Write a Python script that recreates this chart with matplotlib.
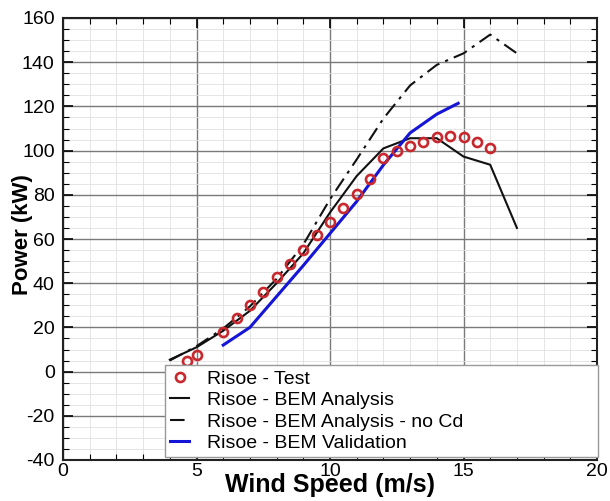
import numpy as np
import matplotlib
matplotlib.use('Agg')
import matplotlib.pyplot as plt
from matplotlib.ticker import MultipleLocator

plt.rcParams['font.family'] = ['Liberation Sans', 'DejaVu Sans']
plt.rcParams['axes.unicode_minus'] = False

# Risoe - Test (measured points)
test_ws = [4.65, 5.0, 6.0, 6.5, 7.0, 7.5, 8.0, 8.5, 9.0, 9.5, 10.0, 10.5, 11.0,
           11.5, 12.0, 12.5, 13.0, 13.5, 14.0, 14.5, 15.0, 15.5, 16.0]
test_power = [4.7, 7.5, 17.9, 24.3, 30.0, 35.9, 42.8, 48.7, 55.1, 61.9, 67.8, 74.0, 80.5,
              87.2, 96.6, 99.6, 102.1, 104.1, 106.1, 106.4, 106.1, 104.1, 101.1]

# Risoe - BEM Analysis
bem_ws = [4, 5, 6, 7, 8, 9, 10, 11, 12, 13, 14, 15, 16, 17]
bem_power = [5.4, 11.0, 18.5, 27.5, 40.0, 53.5, 72.0, 88.5, 101.0, 105.6, 105.6, 97.3, 93.6, 65.0]

# Risoe - BEM Analysis - no Cd
nocd_ws = [4, 5, 6, 7, 8, 9, 10, 11, 12, 13, 14, 15, 16, 17]
nocd_power = [5.0, 11.5, 19.5, 29.5, 42.0, 57.5, 78.0, 96.0, 114.5, 129.5, 138.8, 144.0, 152.5, 144.0]

# Risoe - BEM Validation
val_ws = [6, 7, 8, 9, 10, 11, 12, 13, 14, 14.8]
val_power = [12.0, 20.0, 34.0, 48.0, 62.5, 77.0, 93.5, 108.0, 116.5, 121.4]

fig = plt.figure(figsize=(6.1, 5.01), dpi=100)
ax = fig.add_axes([63/610, 41/501, 534/610, 442/501])

ax.plot(test_ws, test_power, 'o', mfc='none', mec='#c8282d', mew=1.9, ms=6.5,
        label='Risoe - Test', zorder=4)
ax.plot(bem_ws, bem_power, '-', color='#111111', lw=1.5,
        label='Risoe - BEM Analysis', zorder=3)
ax.plot(nocd_ws, nocd_power, color='#111111', lw=1.5, linestyle=(0, (7, 3, 1.5, 3)),
        label='Risoe - BEM Analysis - no Cd', zorder=3)
ax.plot(val_ws, val_power, '-', color='#1515d8', lw=2.2,
        label='Risoe - BEM Validation', zorder=3)

ax.set_xlim(0, 20)
ax.set_ylim(-40, 160)
ax.xaxis.set_major_locator(MultipleLocator(5))
ax.xaxis.set_minor_locator(MultipleLocator(1))
ax.yaxis.set_major_locator(MultipleLocator(20))
ax.yaxis.set_minor_locator(MultipleLocator(5))

ax.grid(which='major', color='#7a7a7a', lw=1.0, zorder=1)
ax.grid(which='minor', color='#e0e0e0', lw=0.6, zorder=0)
ax.set_axisbelow(True)

ax.tick_params(which='both', direction='in', top=True, right=True, labelsize=14)
ax.tick_params(which='major', length=7, width=1.2)
ax.tick_params(which='minor', length=4, width=0.8)
ax.tick_params(axis='x', pad=2)
ax.tick_params(axis='y', pad=6)
for s in ax.spines.values():
    s.set_linewidth(1.5)
    s.set_color('#222222')

# the x label sits tight under the tick labels, as in the original figure
ax.set_xlabel('Wind Speed (m/s)', fontsize=18, fontweight='bold')
ax.set_ylabel('Power (kW)', fontsize=16, fontweight='bold')
ax.xaxis.set_label_coords(0.5, -0.03)
ax.xaxis.label.set_va('top')
ax.yaxis.set_label_coords(-0.056, 0.51)

leg = ax.legend(loc='lower left', bbox_to_anchor=(0.191, 0.007, 0.811, 0.2),
                mode='expand', borderaxespad=0, fontsize=14, labelspacing=0.2,
                handlelength=1.0, handletextpad=0.9, borderpad=0.25,
                fancybox=False, framealpha=1, edgecolor='#999999')
leg.get_frame().set_linewidth(1.0)
leg.set_zorder(5)

plt.savefig('out.png', dpi=100)
